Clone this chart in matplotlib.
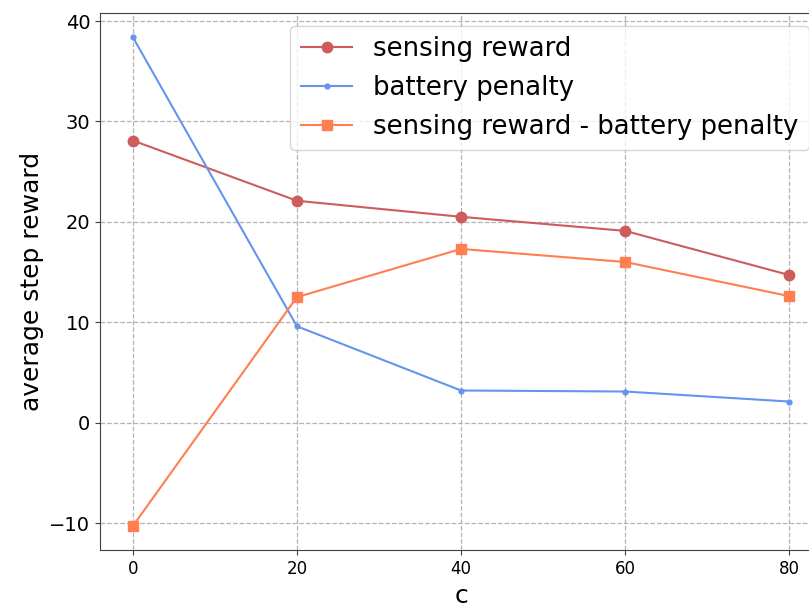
import matplotlib

matplotlib.use("Agg")
import matplotlib.pyplot as plt

# values
c_values = [0, 20, 40, 60, 80]
sensing_reward = [28.1, 22.1, 20.5, 19.1, 14.7]
battery_penalty = [38.4, 9.6, 3.2, 3.1, 2.1]
net_reward = [-10.3, 12.5, 17.3, 16.0, 12.6]

fig = plt.figure(figsize=(8.09, 6.05), dpi=100)
# axes runs slightly past the right edge, as in the cropped original
ax = fig.add_axes([0.1236, 0.0901, 0.8925, 0.889])

ax.plot(c_values, sensing_reward, "o-", color="indianred", markersize=7.5,
        label="sensing reward")
ax.plot(c_values, battery_penalty, ".-", color="cornflowerblue", markersize=7,
        label="battery penalty")
ax.plot(c_values, net_reward, "s-", color="coral", markersize=7,
        label="sensing reward - battery penalty")

ax.set_xticks(c_values)
ax.set_yticks([-10, 0, 10, 20, 30, 40])
ax.tick_params(axis="x", labelsize=12, colors="0.25", labelcolor="black")
ax.tick_params(axis="y", labelsize=14, colors="0.25", labelcolor="black")
for side in ax.spines.values():
    side.set_color("0.25")

ax.grid(True, linestyle="--", color="0.7", linewidth=0.9)
ax.set_xlabel("c", fontsize=18)
ax.set_ylabel("average step reward", fontsize=18)
ax.legend(loc="upper right", fontsize=18.7)

fig.savefig("out.png", dpi=100)
